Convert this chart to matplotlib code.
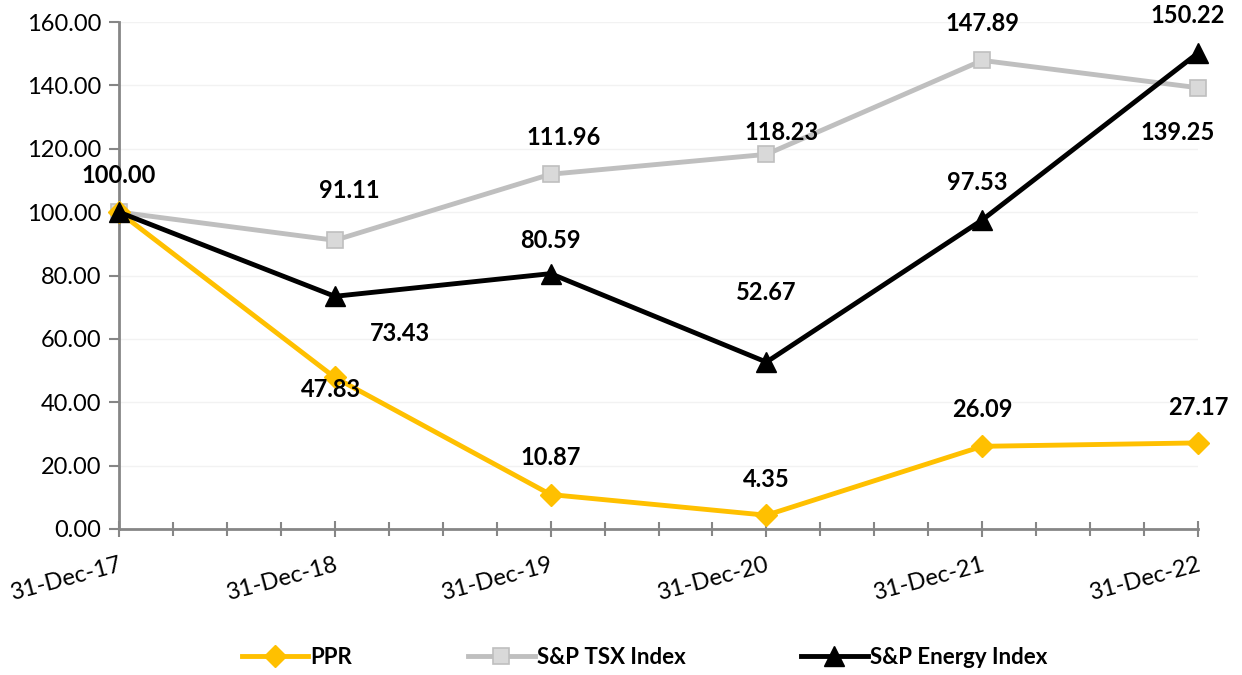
import matplotlib.pyplot as plt
import matplotlib.transforms as mtransforms
from matplotlib.ticker import MultipleLocator, FormatStrFormatter

plt.rcParams['font.family'] = ['Lato', 'DejaVu Sans']

dates = ["31-Dec-17", "31-Dec-18", "31-Dec-19", "31-Dec-20", "31-Dec-21", "31-Dec-22"]
ppr = [100.00, 47.83, 10.87, 4.35, 26.09, 27.17]
tsx = [100.00, 91.11, 111.96, 118.23, 147.89, 139.25]
energy = [100.00, 73.43, 80.59, 52.67, 97.53, 150.22]

# label offsets in pixels (dx, dy), dy positive = up
ppr_off = [None, (-4, -12), (0, 37), (0, 36), (0, 37), (0, 35)]
tsx_off = [None, (15, 50), (13, 37), (15, 22), (0, 37), (-20, -45)]
energy_off = [(0, 37), (65, -37), (0, 33), (0, 70), (-5, 37), (-10, 37)]

fig = plt.figure(figsize=(12.42, 6.75), dpi=100)
ax = fig.add_axes([0.0958, 0.2163, 0.8688, 0.7511])
x = list(range(len(dates)))

ax.plot(x, ppr, color="#FFC000", lw=3.5, marker="D", ms=11, mfc="#FFC000", mec="#FFC000",
        label="PPR", zorder=3, clip_on=False)
ax.plot(x, tsx, color="#BFBFBF", lw=3.5, marker="s", ms=12, mfc="#D9D9D9", mec="#BFBFBF",
        mew=1.2, label="S&P TSX Index", zorder=2, clip_on=False)
ax.plot(x, energy, color="black", lw=3.5, marker="^", ms=14, mfc="black", mec="black",
        label="S&P Energy Index", zorder=4, clip_on=False)

for vals, offs in [(ppr, ppr_off), (tsx, tsx_off), (energy, energy_off)]:
    for xi, v, o in zip(x, vals, offs):
        if o is None:
            continue
        ax.annotate("%.2f" % v, (xi, v), xytext=(o[0] * 0.72, o[1] * 0.72),
                    textcoords="offset points", ha="center", va="center",
                    fontsize=17, fontweight="bold", color="black", zorder=5)

ax.set_xlim(0, 5)
ax.set_ylim(0, 160)
ax.yaxis.set_major_locator(MultipleLocator(20))
ax.yaxis.set_major_formatter(FormatStrFormatter("%.2f"))
ax.xaxis.set_minor_locator(MultipleLocator(0.25))
ax.set_xticks(x)
ax.set_xticklabels(dates, rotation=15, ha="right", rotation_mode="anchor")
shift = mtransforms.ScaledTranslation(-12 / 100, 0, fig.dpi_scale_trans)
for lab in ax.get_xticklabels():
    lab.set_transform(lab.get_transform() + shift)
ax.grid(axis="y", color="#F2F2F2", lw=1)
ax.set_axisbelow(True)

for s in ["top", "right"]:
    ax.spines[s].set_visible(False)
for s in ["left", "bottom"]:
    ax.spines[s].set_color("#868686")
    ax.spines[s].set_linewidth(2)
ax.tick_params(axis="y", colors="#868686", width=1.5, length=7, labelsize=17, labelcolor="black", pad=6)
ax.tick_params(axis="x", which="major", direction="inout", colors="#868686", width=1.5, length=12,
               labelsize=17, labelcolor="black", pad=12)
ax.tick_params(axis="x", which="minor", direction="inout", colors="#868686", width=1.5, length=10)

leg = ax.legend(loc="center", bbox_to_anchor=(0.487, -0.254), ncol=3, frameon=False,
                handlelength=3.0, handletextpad=0.1, columnspacing=5.2,
                prop={"size": 16, "weight": "bold"})

fig.savefig("out.png", dpi=100)
